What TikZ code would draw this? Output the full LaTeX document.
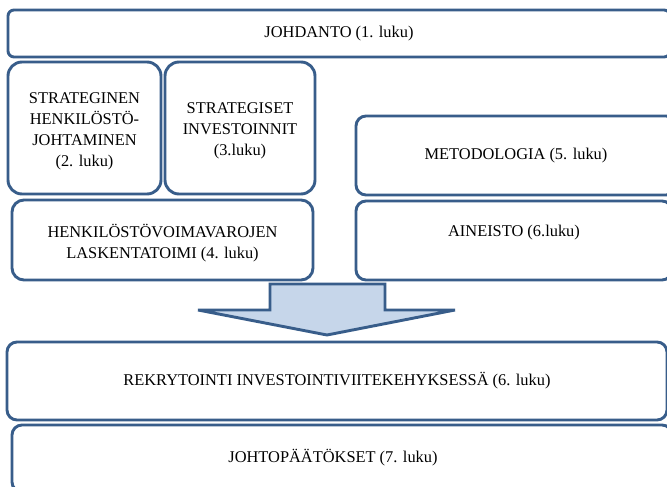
\documentclass[tikz,border=0pt]{standalone}
\usepackage{fontspec}
\setmainfont{Liberation Serif}
\definecolor{bord}{RGB}{56,93,138}
\definecolor{arrfill}{RGB}{198,214,234}
\begin{document}
\begin{tikzpicture}[x=1pt,y=-1pt,
  box/.style={draw=bord, line width=2.9pt, fill=white, align=center,
    font=\fontsize{16.4}{21}\selectfont, inner sep=0pt, outer sep=0pt},
  txt/.style={align=center, font=\fontsize{16.4}{21}\selectfont, inner sep=0pt},
  ]
\useasboundingbox (0,0) rectangle (667,487);
\clip (0,0) rectangle (667,487);
\fill[white] (0,0) rectangle (667,487);
% big arrow
\coordinate (a1) at (270,284);
\coordinate (a2) at (385,284);
\draw[bord, line width=2.9pt, fill=arrfill, line join=miter]
  (a1) -- (a2) -- (385,310) -- (455,310) -- (327,335) -- (198,310) -- (270,310) -- cycle;
% boxes
\node[box, rounded corners=6pt, minimum width=662, minimum height=47] (johd) at (339,33.5) {JOHDANTO (1. luku)};
\node[box, rounded corners=14pt, minimum width=153, minimum height=132] (strat) at (84.5,128) {};
\node[txt] (stratt) at (84.5,131) {STRATEGINEN\\HENKILÖSTÖ-\\JOHTAMINEN\\(2. luku)};
\node[box, rounded corners=14pt, minimum width=150, minimum height=132] (inv) at (240,128) {};
\node[txt] (invt) at (240,131) {STRATEGISET\\INVESTOINNIT\\(3.luku)};
\node[box, rounded corners=12pt, minimum width=301, minimum height=80] (hlt) at (162.5,240) {};
\node[txt] (hltt) at (162.5,243) {HENKILÖSTÖVOIMAVAROJEN\\LASKENTATOIMI (4. luku)};
\node[box, rounded corners=10pt, minimum width=320, minimum height=79] (met) at (516,155.5)
  {METODOLOGIA (5. luku)};
\node[box, rounded corners=10pt, minimum width=316, minimum height=79, anchor=north] (ain) at (514,201) {};
\node[txt] (aint) at (514,233) {AINEISTO (6.luku)};
\node[box, rounded corners=10pt, minimum width=660, minimum height=78] (rek) at (337,381)
  {REKRYTOINTI INVESTOINTIVIITEKEHYKSESSÄ (6. luku)};
\node[box, rounded corners=10pt, minimum width=660, minimum height=67] (joh) at (342,458.5) {};
\node[txt] (joht) at (333,458) {JOHTOPÄÄTÖKSET (7. luku)};
\end{tikzpicture}
\end{document}
